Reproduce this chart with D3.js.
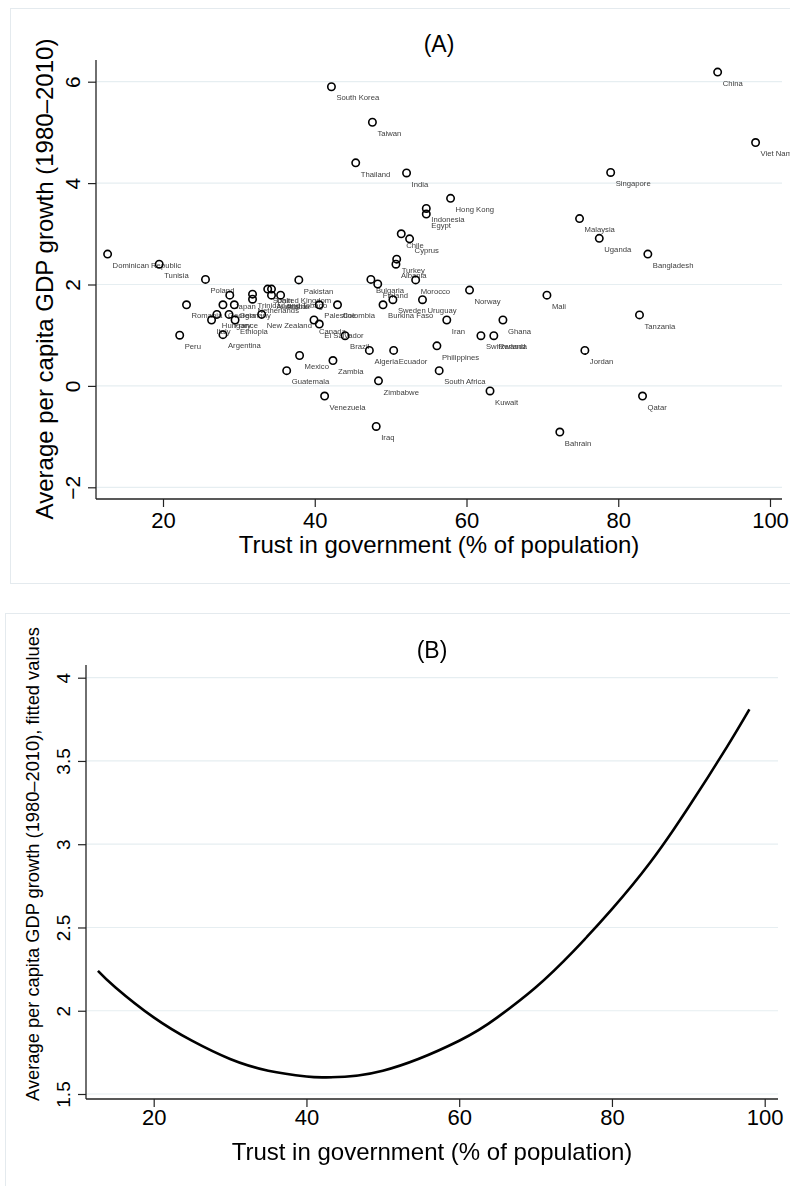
<!DOCTYPE html>
<html><head><meta charset="utf-8">
<script src="https://cdn.jsdelivr.net/npm/d3@7"></script>
<style>
body{margin:0;background:#fff}
svg{display:block}
text{font-family:"Liberation Sans",Arial,Helvetica,sans-serif}
.labs{opacity:0.999;will-change:transform}
</style>
</head><body>
<svg id="c" width="790" height="1186"></svg>
<script>
// ---------- DATA ----------
const countries = ["China","Viet Nam","South Korea","Taiwan","Thailand","India","Singapore","Hong Kong","Indonesia","Egypt","Malaysia","Chile","Cyprus","Uganda","Dominican Republic","Bangladesh","Turkey","Albania","Tunisia","Poland","Pakistan","Bulgaria","Morocco","Finland","Norway","Mali","Japan","Spain","United Kingdom","Trinidad and Tobago","Netherlands","Australia","Austria","Sweden","Uruguay","Romania","Georgia","Germany","Palestine","Colombia","Burkina Faso","Hungary","France","New Zealand","Tanzania","Italy","Ethiopia","Canada","Iran","Ghana","El Salvador","Peru","Argentina","Brazil","Switzerland","Rwanda","Philippines","Algeria","Ecuador","Jordan","Mexico","Zambia","Guatemala","South Africa","Zimbabwe","Kuwait","Venezuela","Qatar","Iraq","Bahrain"];
const trust = [93.1,98.1,42.2,47.6,45.4,52.1,79.0,57.9,54.7,54.7,74.9,51.4,52.5,77.5,12.7,83.9,50.8,50.7,19.5,25.6,37.9,47.4,53.3,48.3,60.4,70.6,28.8,33.8,34.3,31.8,31.8,34.3,35.5,50.3,54.2,23.1,27.9,29.4,40.6,43.0,49.0,27.1,28.7,33.0,82.8,26.4,29.5,39.9,57.4,64.8,40.6,22.2,27.9,44.0,61.9,63.6,56.1,47.2,50.4,75.6,38.0,42.4,36.3,56.4,48.4,63.1,41.3,83.2,48.1,72.3];
const growth = [6.19,4.80,5.90,5.20,4.40,4.20,4.21,3.70,3.50,3.39,3.30,3.00,2.90,2.91,2.60,2.60,2.50,2.40,2.40,2.10,2.09,2.10,2.09,2.01,1.89,1.79,1.79,1.91,1.91,1.81,1.71,1.79,1.79,1.70,1.70,1.60,1.60,1.60,1.60,1.60,1.60,1.41,1.41,1.41,1.40,1.30,1.30,1.30,1.30,1.30,1.22,1.00,1.01,0.99,0.99,0.99,0.79,0.70,0.70,0.70,0.60,0.50,0.30,0.30,0.10,-0.10,-0.20,-0.20,-0.80,-0.91];

const xTicks = [20,40,60,80,100];
const yTicksA = [-2,0,2,4,6];
const yTicksB = [1.5,2,2.5,3,3.5,4];

const fitTrust  = [12.7,15,20,25,30,35,40,42.5,50,60,65,70,75,80,85,90,95,98];
const fitValues = [2.24,2.14,1.96,1.82,1.71,1.64,1.605,1.60,1.64,1.82,1.96,2.14,2.36,2.61,2.89,3.22,3.58,3.81];

const xTitle = "Trust in government (% of population)";
const yTitleA = "Average per capita GDP growth (1980\u20132010)";
const yTitleB = "Average per capita GDP growth (1980\u20132010), fitted values";

// ---------- LAYOUT ----------
const svg = d3.select("#c");
const gridCol = "#e6eef1", frameCol = "#e4eaee", axisCol = "#222";

svg.append("rect").attr("x",10.5).attr("y",8.5).attr("width",820).attr("height",575)
  .attr("fill","none").attr("stroke",frameCol).attr("stroke-width",1);
svg.append("rect").attr("x",5.5).attr("y",613.5).attr("width",820).attr("height",620)
  .attr("fill","none").attr("stroke",frameCol).attr("stroke-width",1);

function panel(o){
  const g = svg.append("g");
  g.selectAll("line.grid").data(o.yTicks).join("line")
    .attr("x1",o.left).attr("x2",o.right)
    .attr("y1",d=>o.y(d)).attr("y2",d=>o.y(d))
    .attr("stroke",gridCol).attr("stroke-width",1.2);
  const xa = g.append("g").attr("transform",`translate(0,${o.bottom})`)
    .call(d3.axisBottom(o.x).tickValues(xTicks).tickSize(8).tickFormat(d3.format("d")));
  xa.select(".domain").remove();
  xa.selectAll(".tick line").attr("stroke",axisCol).attr("stroke-width",1.2);
  xa.selectAll(".tick text").attr("y",o.xLabDy).attr("dy",0)
    .style("font-size",o.xTickSize+"px").attr("fill","#000");
  g.append("line").attr("x1",o.left).attr("x2",o.right).attr("y1",o.bottom).attr("y2",o.bottom)
    .attr("stroke",axisCol).attr("stroke-width",1.3);
  const ya = g.append("g").attr("transform",`translate(${o.left},0)`)
    .call(d3.axisLeft(o.y).tickValues(o.yTicks).tickSize(8).tickFormat(d=>String(d).replace("-","\u2212")));
  ya.select(".domain").remove();
  ya.selectAll(".tick line").attr("stroke",axisCol).attr("stroke-width",1.2);
  ya.selectAll(".tick text").attr("transform","rotate(-90)").attr("x",0).attr("y",-16).attr("dy",0)
    .attr("text-anchor","middle").style("font-size",o.yTickSize+"px").attr("fill","#000");
  g.append("line").attr("x1",o.left).attr("x2",o.left).attr("y1",o.top).attr("y2",o.bottom)
    .attr("stroke",axisCol).attr("stroke-width",1.3);
  g.append("text").attr("x",(o.left+o.right)/2).attr("y",o.xTitleY).attr("text-anchor","middle")
    .style("font-size","24px").text(xTitle);
  g.append("text").attr("transform",`translate(${o.yTitleX},${o.yTitleCy}) rotate(-90)`)
    .attr("text-anchor","middle").style("font-size",o.yTitleSize+"px").text(o.yTitle);
  g.append("text").attr("x",(o.left+o.right)/2).attr("y",o.headY).attr("text-anchor","middle")
    .style("font-size","23px").text(o.head);
  return g;
}

// Panel A
const xA = d3.scaleLinear().domain([20,100]).range([163,770]);
const yA = d3.scaleLinear().domain([-2,6]).range([487.3,81.7]);
const gA = panel({x:xA,y:yA,yTicks:yTicksA,left:96,right:782,top:60,bottom:499,
  xLabDy:29,xTickSize:22,yTickSize:21,xTitleY:553,yTitleX:53,yTitleCy:279,yTitleSize:24,
  yTitle:yTitleA,head:"(A)",headY:52});

const pts = countries.map((c,i)=>({c, x:trust[i], y:growth[i]}));
gA.append("g").attr("class","labs").selectAll("text").data(pts).join("text")
  .attr("x",d=>xA(d.x)+5).attr("y",d=>yA(d.y)+13.7)
  .style("font-size","7.7px").attr("fill","#3c3c3c").text(d=>d.c);
gA.append("g").selectAll("circle").data(pts).join("circle")
  .attr("cx",d=>xA(d.x)).attr("cy",d=>yA(d.y)).attr("r",3.7)
  .attr("fill","none").attr("stroke","#000").attr("stroke-width",1.6);

// Panel B
const xB = d3.scaleLinear().domain([20,100]).range([153.7,764.7]);
const yB = d3.scaleLinear().domain([1.5,4]).range([1094,677.7]);
const gB = panel({x:xB,y:yB,yTicks:yTicksB,left:86,right:778,top:665,bottom:1099,
  xLabDy:26,xTickSize:22,yTickSize:19,xTitleY:1160,yTitleX:39,yTitleCy:864,yTitleSize:18.3,
  yTitle:yTitleB,head:"(B)",headY:658});

const fit = fitTrust.map((t,i)=>[t,fitValues[i]]);
gB.append("path").datum(fit)
  .attr("d",d3.line().x(d=>xB(d[0])).y(d=>yB(d[1])).curve(d3.curveNatural))
  .attr("fill","none").attr("stroke","#000").attr("stroke-width",2.6);
</script>
</body></html>
